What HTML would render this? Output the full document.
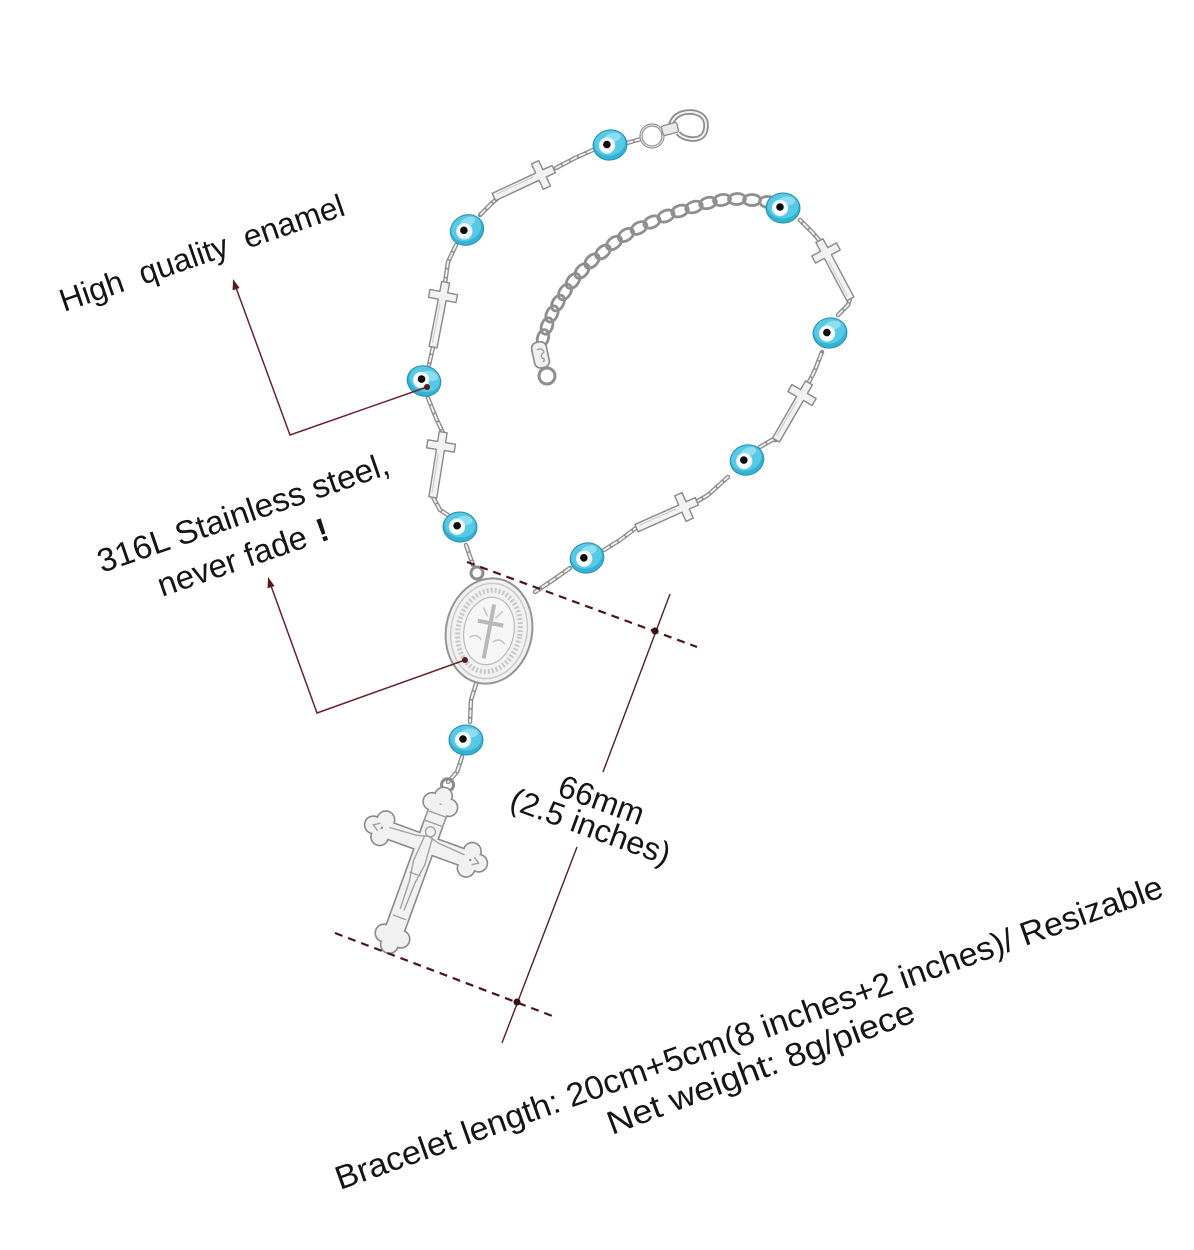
<!DOCTYPE html>
<html>
<head>
<meta charset="utf-8">
<style>
html,body{margin:0;padding:0;background:#fff;}
body{width:1194px;height:1250px;overflow:hidden;}
svg{display:block;}
text{font-family:"Liberation Sans",Arial,sans-serif;fill:#151515;}
</style>
</head>
<body>
<svg width="1194" height="1250" viewBox="0 0 1194 1250" xmlns="http://www.w3.org/2000/svg">
<defs>
  <g id="bead">
    <ellipse rx="17" ry="15" fill="#32b3d4"/>
    <ellipse cx="0" cy="-2" rx="15.5" ry="12.5" fill="#58c9e5"/>
    <ellipse cx="4" cy="-7" rx="8" ry="4.5" fill="#a6e6f4" opacity="0.7"/>
    <ellipse rx="17" ry="15" fill="none" stroke="#2690b2" stroke-width="1"/>
    <circle cx="-3" cy="0" r="8.2" fill="#dff4fa"/>
    <circle cx="-3" cy="0" r="6.6" fill="#ffffff"/>
    <circle cx="-3" cy="-1" r="3.8" fill="#0c0c0c"/>
  </g>
  <g id="sc">
    <path d="M-14,-4 H-4 V-14 H4 V-4 H52 V4 H4 V14 H-4 V4 H-14 Z" fill="#f2f2f2" stroke="#8a8a8a" stroke-width="1.4" stroke-linejoin="round"/>
    <path d="M8,1.5 H48" stroke="#c9c9c9" stroke-width="1"/>
  </g>
</defs>

<rect width="1194" height="1250" fill="#fff"/>

<!-- ================= CHAINS ================= -->
<g fill="none" stroke-linecap="round" stroke-linejoin="round">
  <g stroke="#8e8e8e" stroke-width="4.5">
    <polyline points="674,130 663,134"/>
    <polyline points="641,139 627,143"/>
    <polyline points="593,150 575,158 556,168"/>
    <polyline points="505,192 492,203 480,215"/>
    <polyline points="456,245 448,262 445,283"/>
    <polyline points="433,347 429,365"/>
    <polyline points="428,398 436,418 443,433"/>
    <polyline points="433,497 440,510 448,515"/>
    <polyline points="466,545 473,565"/>
    <polyline points="535,592 553,580 570,568"/>
    <polyline points="604,550 620,540 636,528"/>
    <polyline points="696,502 708,495 728,477"/>
    <polyline points="760,447 772,440 776,440"/>
    <polyline points="808,384 815,370 822,352"/>
    <polyline points="838,315 848,305 850,299"/>
    <polyline points="820,241 812,232 800,220"/>
    <polyline points="476,684 471,700 470,722"/>
    <polyline points="462,757 457,772 448,782"/>
  </g>
  <g stroke="#f3f3f3" stroke-width="1.8" stroke-dasharray="6 3">
    <polyline points="674,130 663,134"/>
    <polyline points="641,139 627,143"/>
    <polyline points="593,150 575,158 556,168"/>
    <polyline points="505,192 492,203 480,215"/>
    <polyline points="456,245 448,262 445,283"/>
    <polyline points="433,347 429,365"/>
    <polyline points="428,398 436,418 443,433"/>
    <polyline points="433,497 440,510 448,515"/>
    <polyline points="466,545 473,565"/>
    <polyline points="535,592 553,580 570,568"/>
    <polyline points="604,550 620,540 636,528"/>
    <polyline points="696,502 708,495 728,477"/>
    <polyline points="760,447 772,440 776,440"/>
    <polyline points="808,384 815,370 822,352"/>
    <polyline points="838,315 848,305 850,299"/>
    <polyline points="820,241 812,232 800,220"/>
    <polyline points="476,684 471,700 470,722"/>
    <polyline points="462,757 457,772 448,782"/>
  </g>
</g>

<!-- extension curb chain -->
<g fill="none" stroke="#8f8f8f" stroke-width="2.8">
  <ellipse cx="768" cy="202" rx="8.5" ry="5.5" transform="rotate(5 768 202)"/>
  <ellipse cx="752" cy="200" rx="8.5" ry="5.5" transform="rotate(0 752 200)"/>
  <ellipse cx="737" cy="199" rx="8.5" ry="5.5" transform="rotate(-3 737 199)"/>
  <ellipse cx="722" cy="200" rx="8.5" ry="5.5" transform="rotate(-10 722 200)"/>
  <ellipse cx="708" cy="203" rx="8.5" ry="5.5" transform="rotate(-15 708 203)"/>
  <ellipse cx="694" cy="207" rx="8.5" ry="5.5" transform="rotate(-18 694 207)"/>
  <ellipse cx="680" cy="211" rx="8.5" ry="5.5" transform="rotate(-20 680 211)"/>
  <ellipse cx="666" cy="216" rx="8.5" ry="5.5" transform="rotate(-23 666 216)"/>
  <ellipse cx="652" cy="222" rx="8.5" ry="5.5" transform="rotate(-26 652 222)"/>
  <ellipse cx="639" cy="228" rx="8.5" ry="5.5" transform="rotate(-30 639 228)"/>
  <ellipse cx="626" cy="235" rx="8.5" ry="5.5" transform="rotate(-35 626 235)"/>
  <ellipse cx="614" cy="243" rx="8.5" ry="5.5" transform="rotate(-38 614 243)"/>
  <ellipse cx="603" cy="252" rx="8.5" ry="5.5" transform="rotate(-42 603 252)"/>
  <ellipse cx="592" cy="261" rx="8.5" ry="5.5" transform="rotate(-45 592 261)"/>
  <ellipse cx="582" cy="271" rx="8.5" ry="5.5" transform="rotate(-48 582 271)"/>
  <ellipse cx="573" cy="281" rx="8.5" ry="5.5" transform="rotate(-52 573 281)"/>
  <ellipse cx="565" cy="292" rx="8.5" ry="5.5" transform="rotate(-57 565 292)"/>
  <ellipse cx="558" cy="303" rx="8.5" ry="5.5" transform="rotate(-60 558 303)"/>
  <ellipse cx="552" cy="314" rx="8.5" ry="5.5" transform="rotate(-64 552 314)"/>
  <ellipse cx="547" cy="326" rx="8.5" ry="5.5" transform="rotate(-70 547 326)"/>
  <ellipse cx="543" cy="338" rx="8.5" ry="5.5" transform="rotate(-75 543 338)"/>
</g>
<!-- tag + ring at extension end -->
<g>
  <rect x="533" y="342" width="15" height="26" rx="6" fill="#efefef" stroke="#8a8a8a" stroke-width="1.6" transform="rotate(-12 540 355)"/>
  <path d="M537,350 q5,-3 7,2 q-4,3 -2,6 q4,1 1,4" fill="none" stroke="#9a9a9a" stroke-width="1.3"/>
  <circle cx="547" cy="376" r="8" fill="none" stroke="#8e8e8e" stroke-width="3"/>
</g>

<!-- clasp -->
<g>
  <circle cx="652" cy="136" r="11" fill="none" stroke="#8e8e8e" stroke-width="3.2"/>
  <circle cx="652" cy="136" r="11" fill="none" stroke="#eeeeee" stroke-width="1"/>
  <path d="M670,127 q4,-16 22,-15 q15,2 14,15 q-1,13 -15,12 q-9,-1 -13,-6" fill="none" stroke="#8b8b8b" stroke-width="5.5"/>
  <path d="M670,127 q4,-16 22,-15 q15,2 14,15 q-1,13 -15,12 q-9,-1 -13,-6" fill="none" stroke="#f1f1f1" stroke-width="2"/>
  <rect x="662" y="124" width="16" height="10" rx="2" fill="#e9e9e9" stroke="#8b8b8b" stroke-width="1.3" transform="rotate(-15 670 129)"/>
</g>

<!-- small crosses -->
<use href="#sc" transform="translate(541,175) rotate(155)"/>
<use href="#sc" transform="translate(443,296) rotate(101)"/>
<use href="#sc" transform="translate(441,446) rotate(99)"/>
<use href="#sc" transform="translate(684,507) rotate(156)"/>
<use href="#sc" transform="translate(802,395) rotate(120)"/>
<use href="#sc" transform="translate(826,253) rotate(62)"/>

<!-- beads -->
<use href="#bead" transform="translate(610,145) rotate(-10)"/>
<use href="#bead" transform="translate(467,230) rotate(-25)"/>
<use href="#bead" transform="translate(424,381) rotate(20)"/>
<use href="#bead" transform="translate(460,527) rotate(5)"/>
<use href="#bead" transform="translate(587,558) rotate(-15)"/>
<use href="#bead" transform="translate(747,460) rotate(-20)"/>
<use href="#bead" transform="translate(830,333) rotate(-10)"/>
<use href="#bead" transform="translate(783,208) rotate(0)"/>
<use href="#bead" transform="translate(466,740) rotate(0)"/>

<!-- medallion -->
<circle cx="477" cy="573" r="6" fill="none" stroke="#8d8d8d" stroke-width="3"/>
<g transform="translate(489,631) rotate(11)">
  <ellipse rx="43" ry="53" fill="#f1f1f1" stroke="#959595" stroke-width="2"/>
  <ellipse rx="38" ry="48" fill="none" stroke="#cacaca" stroke-width="1.5"/>
  <ellipse rx="31" ry="41" fill="none" stroke="#c8c8c8" stroke-width="5" stroke-dasharray="2 2"/>
  <ellipse rx="25" ry="34" fill="#f6f6f6" stroke="#bbbbbb" stroke-width="1.2"/>
  <path d="M0,-27 V28 M-13,-8 H13" stroke="#b8b8b8" stroke-width="4" fill="none"/>
  <path d="M-18,10 q6,-6 12,0 M6,10 q6,-6 12,0 M-10,-22 l6,8 M10,-22 l-6,8" stroke="#c4c4c4" stroke-width="1.5" fill="none"/>
</g>

<!-- crucifix -->
<g transform="translate(426,844) rotate(20)">
  <circle cx="0" cy="-63" r="6" fill="none" stroke="#8a8a8a" stroke-width="3"/>
  <g stroke="#8a8a8a" stroke-width="3.2" fill="#8a8a8a">
    <rect x="-9" y="-42" width="18" height="142"/>
    <rect x="-46" y="-8" width="92" height="16"/>
    <circle cx="-9" cy="-42" r="8"/><circle cx="9" cy="-42" r="8"/><circle cx="0" cy="-51" r="8"/>
    <circle cx="-46" cy="-9" r="8"/><circle cx="-46" cy="9" r="8"/><circle cx="-56" cy="0" r="8"/>
    <circle cx="46" cy="-9" r="8"/><circle cx="46" cy="9" r="8"/><circle cx="56" cy="0" r="8"/>
    <circle cx="-9" cy="98" r="8"/><circle cx="9" cy="98" r="8"/><circle cx="0" cy="107" r="8"/>
  </g>
  <g fill="#f1f1f1">
    <rect x="-9" y="-42" width="18" height="142"/>
    <rect x="-46" y="-8" width="92" height="16"/>
    <circle cx="-9" cy="-42" r="8"/><circle cx="9" cy="-42" r="8"/><circle cx="0" cy="-51" r="8"/>
    <circle cx="-46" cy="-9" r="8"/><circle cx="-46" cy="9" r="8"/><circle cx="-56" cy="0" r="8"/>
    <circle cx="46" cy="-9" r="8"/><circle cx="46" cy="9" r="8"/><circle cx="56" cy="0" r="8"/>
    <circle cx="-9" cy="98" r="8"/><circle cx="9" cy="98" r="8"/><circle cx="0" cy="107" r="8"/>
  </g>
  <g fill="none" stroke="#a2a2a2" stroke-width="1.4">
    <rect x="-10" y="-32" width="20" height="10"/>
    <circle cx="0" cy="-13" r="5"/>
    <path d="M-40,-3 L-12,-5 L0,-8 L12,-5 L40,-3"/>
    <path d="M-4,-8 L-6,20 L-3,40 L-2,70 M4,-8 L6,20 L3,40 L2,70"/>
    <path d="M-6,32 H6"/>
    <path d="M-7,78 H7"/>
    <path d="M-50,-4 l-6,4 l6,4 M50,-4 l6,4 l-6,4"/>
  </g>
</g>

<!-- ================= LEADERS ================= -->
<g stroke="#6a2525" stroke-width="1.5" fill="none">
  <polyline points="427,387 290,435 235,285"/>
  <polyline points="465,660 317,713 270,583"/>
</g>
<g fill="#5a1a1a">
  <circle cx="427" cy="387" r="3"/>
  <circle cx="465" cy="660" r="3"/>
  <polygon points="233,279 239.6,288 232.6,290.4"/>
  <polygon points="268,577 274.6,586 267.6,588.4"/>
</g>

<!-- ================= DIMENSION ================= -->
<g stroke="#4d1616" stroke-width="2.2" stroke-dasharray="8 6" fill="none">
  <line x1="467" y1="562" x2="697" y2="647"/>
  <line x1="335" y1="933" x2="555" y2="1017"/>
</g>
<g stroke="#5a1e1e" stroke-width="1.4" fill="none">
  <line x1="670" y1="594" x2="603" y2="772"/>
  <line x1="577" y1="847" x2="502" y2="1043"/>
</g>
<g fill="#3a0e0e">
  <circle cx="655" cy="631" r="3.5"/>
  <circle cx="517" cy="1002" r="3.5"/>
</g>

<!-- ================= TEXT ================= -->
<text x="64" y="312" font-size="32" word-spacing="9" transform="rotate(-19 64 312)">High quality enamel</text>

<text x="102" y="573" font-size="33" textLength="306" lengthAdjust="spacingAndGlyphs" transform="rotate(-19 102 573)">316L Stainless steel,</text>
<text x="162" y="597" font-size="33" transform="rotate(-19 162 597)">never fade<tspan dx="12" font-weight="bold">!</tspan></text>

<text x="556" y="795" font-size="32" transform="rotate(20 556 795)">66mm</text>
<text x="508" y="808" font-size="32" textLength="168" lengthAdjust="spacingAndGlyphs" transform="rotate(20 508 808)">(2.5 inches)</text>

<text x="340" y="1190" font-size="33" textLength="876" lengthAdjust="spacingAndGlyphs" transform="rotate(-19.6 340 1190)">Bracelet length: 20cm+5cm(8 inches+2 inches)/ Resizable</text>
<text x="612" y="1135" font-size="33" textLength="326" lengthAdjust="spacingAndGlyphs" transform="rotate(-20.5 612 1135)">Net weight: 8g/piece</text>
</svg>
</body>
</html>
